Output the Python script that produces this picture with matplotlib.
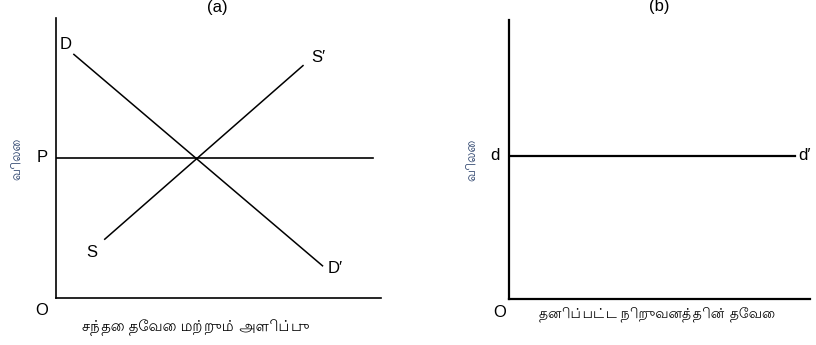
import matplotlib.pyplot as plt

# panel (a): market demand and supply
demand_q = [0.55, 8.2]
demand_p = [8.7, 1.15]
supply_q = [1.5, 7.6]
supply_p = [2.1, 8.3]
market_price = 5.0
market_price_end = 9.75

# panel (b): demand facing a single firm
firm_price = 5.13
firm_q_end = 9.5

price_label = 'விலை'
market_xlabel = 'சந்தை தேவை மற்றும் அளிப்பு'
firm_xlabel = 'தனிப்பட்ட நிறுவனத்தின் தேவை'

fonts = ['Liberation Sans', 'Lohit Tamil', 'DejaVu Sans']
plt.rcParams['font.family'] = fonts

W, H = 816, 345
fig = plt.figure(figsize=(W / 100, H / 100), dpi=100)


def make_axes(left, top, right, bottom, lw):
    ax = fig.add_axes([left / W, (H - bottom) / H, (right - left) / W, (bottom - top) / H])
    ax.set_xlim(0, 10)
    ax.set_ylim(0, 10)
    for s in ['top', 'right']:
        ax.spines[s].set_visible(False)
    for s in ['left', 'bottom']:
        ax.spines[s].set_linewidth(lw)
    ax.set_xticks([])
    ax.set_yticks([])
    return ax


ax1 = make_axes(56, 18, 381, 298, 1.2)
ax1.plot(demand_q, demand_p, color='black', lw=1.1)
ax1.plot(supply_q, supply_p, color='black', lw=1.1)
ax1.plot([0, market_price_end], [market_price, market_price], color='black', lw=1.2)

kw = dict(fontsize=12, ha='center', va='center', clip_on=False)
ax1.text(0.31, 9.07, 'D', **kw)
ax1.text(8.06, 8.6, 'S′', **kw)
ax1.text(1.1, 1.64, 'S', **kw)
ax1.text(8.58, 1.07, 'D′', **kw)
ax1.text(-0.43, market_price, 'P', **kw)
ax1.text(-0.43, -0.46, 'O', **kw)
ax1.text(4.95, 10.39, '(a)', **kw)
ax1.text(-1.2, 4.96, price_label, fontsize=9, rotation=90, color='#203864',
         ha='center', va='center', clip_on=False)
ax1.text(4.3, -1.07, market_xlabel, fontsize=10.5, ha='center', va='center', clip_on=False)

ax2 = make_axes(509, 20, 810, 299, 1.6)
ax2.plot([0, firm_q_end], [firm_price, firm_price], color='black', lw=1.6)
ax2.text(-0.47, firm_price, 'd', **kw)
ax2.text(9.83, firm_price, 'd′', **kw)
ax2.text(-0.3, -0.47, 'O', **kw)
ax2.text(4.98, 10.47, '(b)', **kw)
ax2.text(-1.23, 5.0, price_label, fontsize=9, rotation=90, color='#203864',
         ha='center', va='center', clip_on=False)
ax2.text(4.92, -0.54, firm_xlabel, fontsize=10, ha='center', va='center', clip_on=False)

fig.savefig('out.png', dpi=100)
